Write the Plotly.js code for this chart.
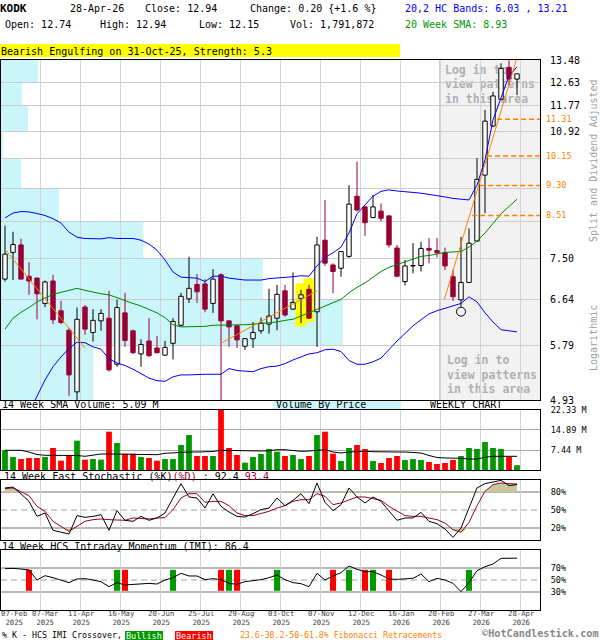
<!DOCTYPE html>
<html><head><meta charset="utf-8">
<script src="https://cdn.plot.ly/plotly-3.0.1.min.js"></script>
<style>html,body{margin:0;padding:0;background:#fff}#chart{width:600px;height:640px}</style>
</head><body><div id="chart"></div>
<script>
// ---------- DATA ----------
const tickIdx   = [0, 4, 9, 14, 19, 24, 29, 34, 39, 44, 49, 54, 59, 64];
const tickDay   = ['07-Feb','07-Mar','11-Apr','16-May','20-Jun','25-Jul','29-Aug','03-Oct','07-Nov','12-Dec','16-Jan','20-Feb','27-Mar','28-Apr'];
const tickYear  = ['2025','2025','2025','2025','2025','2025','2025','2025','2025','2025','2026','2026','2026','2026'];

const open  = [7.05,7.63,7.80,7.11,7.07,6.56,7.01,6.42,6.06,5.05,6.49,6.02,6.23,6.28,5.48,6.38,6.05,5.65,5.87,5.75,5.63,5.83,6.15,6.65,6.94,6.95,6.56,7.14,6.23,6.14,5.78,5.91,6.05,6.17,6.28,6.81,6.45,6.66,6.84,6.40,7.91,7.35,7.28,7.54,9.01,8.73,8.46,8.62,8.50,7.73,7.00,7.33,7.34,7.72,7.67,7.62,7.10,6.63,6.98,7.89,9.59,11.09,12.00,13.19,12.74];
const high  = [8.26,8.11,7.94,7.41,7.09,7.02,7.14,6.61,6.10,6.48,6.53,6.45,6.45,6.81,6.63,6.77,6.07,5.90,6.28,5.96,5.87,6.28,6.77,7.53,7.16,7.05,7.26,7.17,6.24,6.15,5.92,6.21,6.29,6.85,6.93,6.93,7.19,6.83,6.93,7.99,8.91,7.39,7.66,9.31,9.98,8.75,9.04,8.82,8.51,7.80,7.46,7.84,7.87,7.96,7.96,7.74,7.24,7.99,8.19,10.08,11.63,12.27,13.35,13.55,12.94];
const low   = [7.00,7.03,7.05,6.73,6.26,6.49,6.17,6.17,4.99,4.93,5.98,5.86,6.05,5.36,5.44,5.77,5.65,5.44,5.60,5.66,5.62,5.56,6.13,6.57,6.57,6.39,6.38,4.92,5.77,5.75,5.72,5.75,6.00,6.00,6.06,6.31,6.44,6.19,6.27,5.77,7.33,6.76,7.10,7.51,8.61,8.01,8.44,8.36,7.74,7.09,6.92,7.17,7.21,7.39,7.52,7.24,6.61,6.50,6.97,7.87,8.57,11.05,11.98,12.52,12.15];
const close = [7.59,7.81,7.05,7.01,6.75,6.99,6.25,6.20,5.31,6.26,6.08,6.24,6.37,5.39,6.48,5.88,5.67,5.81,5.62,5.67,5.76,6.22,6.70,6.86,6.79,6.45,7.05,6.23,6.12,5.89,5.91,6.02,6.19,6.32,6.74,6.34,6.58,6.73,6.28,7.80,7.39,7.21,7.65,8.80,8.65,8.33,8.73,8.44,7.80,7.11,7.33,7.34,7.72,7.68,7.62,7.33,6.69,6.98,7.84,9.47,11.25,12.12,13.15,12.74,12.94];

const bandUpper = [8.45,8.57,8.61,8.60,8.56,8.51,8.43,8.32,8.10,7.98,7.95,7.94,7.94,7.97,7.95,7.95,7.95,7.91,7.82,7.68,7.46,7.20,7.09,7.08,7.07,7.00,7.11,7.11,7.07,7.05,7.03,7.03,7.03,7.06,7.07,7.09,7.10,7.12,7.11,7.33,7.52,7.62,7.75,8.08,8.55,8.78,9.01,9.14,9.18,9.15,9.12,9.11,9.09,9.06,9.01,8.99,8.95,8.93,8.91,9.31,10.03,11.29,12.08,12.86,13.21];
const bandLower = [4.40,4.50,4.60,4.75,4.99,5.23,5.44,5.60,5.74,5.85,5.84,5.77,5.73,5.57,5.50,5.46,5.40,5.33,5.26,5.22,5.21,5.28,5.31,5.31,5.32,5.32,5.32,5.32,5.41,5.38,5.37,5.36,5.41,5.44,5.45,5.49,5.55,5.60,5.65,5.67,5.72,5.73,5.69,5.54,5.48,5.48,5.52,5.58,5.73,5.87,6.00,6.14,6.25,6.36,6.42,6.47,6.51,6.56,6.69,6.59,6.38,6.21,6.07,6.05,6.03];
const sma20     = [6.08,6.28,6.39,6.48,6.59,6.66,6.74,6.78,6.82,6.86,6.82,6.78,6.75,6.73,6.67,6.62,6.56,6.51,6.44,6.38,6.29,6.16,6.12,6.12,6.12,6.13,6.15,6.15,6.15,6.16,6.16,6.17,6.18,6.20,6.21,6.24,6.26,6.32,6.38,6.44,6.51,6.57,6.64,6.77,6.88,6.97,7.09,7.21,7.30,7.36,7.42,7.47,7.54,7.56,7.59,7.63,7.64,7.65,7.75,7.89,8.08,8.30,8.55,8.74,8.93];

const volume = [7.33,4.84,4.09,4.47,4.47,4.84,8.19,3.47,5.46,10.92,3.85,4.09,3.85,14.27,10.05,6.08,6.08,4.84,4.47,3.47,4.09,4.09,9.30,13.03,5.21,5.21,5.21,22.33,8.19,5.58,2.73,4.84,5.95,7.82,6.82,5.21,5.58,4.09,5.21,13.03,14.27,6.08,3.35,8.19,9.30,7.82,3.35,2.61,4.47,5.21,3.72,4.09,3.72,2.98,2.23,2.61,3.72,5.21,8.19,7.82,10.42,8.19,7.82,4.84,1.79];
const volSma = [7.33,7.33,7.33,6.70,5.77,5.47,5.47,5.47,5.47,5.40,5.10,5.47,5.95,5.95,5.95,5.95,5.95,5.84,5.77,5.70,6.21,6.44,6.70,6.70,6.70,6.70,6.88,7.33,7.26,7.18,7.07,6.96,7.07,7.18,7.55,7.55,7.33,6.96,7.07,7.33,7.55,6.70,6.33,6.70,6.96,6.96,6.81,6.70,6.70,6.70,6.70,6.51,6.33,5.40,4.65,4.47,4.47,4.35,4.09,4.09,4.73,5.10,5.10,5.10,5.09];
const volTicks = [7.44, 14.89, 22.33];

const stochK = [86.7,88.3,77,64.4,39.4,45,16.1,12.8,10,40.6,37.8,39.4,42.2,16.1,48.9,32.8,31.1,39.4,32.8,36.7,45,70,93.9,71.7,70,53.3,77,56.1,46.7,39.4,38.3,43.9,50.6,53.3,70,57.2,66.1,77.2,60.6,95,62.8,48.9,58.9,86.7,71.7,61.7,71.7,64.4,47.8,32.8,36.7,36.7,46.1,31.1,27.2,18.3,4.4,20,53.3,86.7,93.9,96.7,99.4,90.6,92.4];
const stochD = [85.6,86.7,80.6,73.9,56.1,47.8,31.1,22.8,14.4,22.8,31.1,33.9,35,33.9,33.9,32.8,36.7,35.6,35,36.7,37.2,50.6,70,77.2,77.2,62.8,64.4,64.4,57.2,45,40.6,40.6,43.9,47.8,53.3,57.2,64.4,67.2,67.2,77.2,72.8,58.9,61.7,67.2,71.7,71.7,68.3,66.1,56.1,47.8,40.6,39.4,39.4,36.7,33.9,28.3,17.2,12.8,29.4,57.2,81.1,92.2,95,93.9,93.4];
const imi    = [68.9,69.4,68.3,66.7,50,57.2,53.9,50,45.6,51.7,52.2,50,47.2,38.9,45.6,41.7,42.8,44.4,44.4,43.3,50,53.9,61.1,56.7,56.7,50.6,52.2,50.6,44.4,42.8,47.2,48.9,50.6,53.9,58.3,50.6,45.6,43.9,38.9,61.1,50,56.7,62.2,73.3,67.8,63.9,63.9,58.3,51.7,51.1,51.7,52.8,60,47.2,52.8,50,44.4,30.6,45.6,65.6,72.2,76.7,86.1,86.1,86.4];
const imiBull = [14, 21, 28, 34, 43, 46, 58];
const imiBear = [3, 15, 27, 29, 41, 45, 48];

const priceTicks    = [4.93, 5.79, 6.64, 7.50, 8.36, 9.21, 10.07, 10.92, 11.77, 12.63, 13.48];
const priceTickText = ['4.93','5.79','6.64','7.50','','','','10.92','11.77','12.63','13.48'];
const vbpPct = [9.2, 34.1, 26.1, 14.2, 5.8, 2.0, 0.2, 2.7, 2.1, 3.7]; // volume-by-price share per bin (bottom to top)

const fibLevels = [8.51, 9.30, 10.15, 11.31];
const fibStart  = [58.4, 59.4, 60.25, 61.5];
const trend1Idx = [0, 10],    trend1Val = [7.70, 5.75];
const trend2Idx = [27, 39],   trend2Val = [5.83, 6.81];
const trend3Idx = [54.9, 64], trend3Val = [6.63, 13.57];
const patternIdx = [37, 38];
const pivotLowIdx = 57, pivotHighIdx = 62;

// ---------- LAYOUT HELPERS ----------
const MONO = 'DejaVu Sans Mono';
const RED = '#990033', VGREEN = '#009900', VRED = '#ff0000', ORANGE = '#ff8000';
const PL = 1, PR = 540, PT = 60, PB = 610;
const px = x => (x - PL) / (PR - PL);
const py = y => (PB - y) / (PB - PT);
const XR = [-0.5, 66.875];

const idx = close.map((_, i) => i);
const isUp = idx.map(i => close[i] >= open[i]);
const bodyLo = idx.map(i => Math.min(open[i], close[i]));
const bodyHi = idx.map(i => Math.max(open[i], close[i]));
const bodySz = idx.map(i => Math.max(bodyHi[i] - bodyLo[i], 0.004));
const gridX = tickIdx.slice(1).map(i => i + 0.375);

function wicks(up) {
  const xs = [], ys = [];
  idx.forEach(i => {
    if (isUp[i] !== up) return;
    xs.push(i, i, null, i, i, null);
    ys.push(high[i], bodyHi[i], null, bodyLo[i], low[i], null);
  });
  return {xs, ys};
}
const wU = wicks(true), wD = wicks(false);

const data = [];
data.push({type:'bar', x: idx, y: bodySz, base: bodyLo, width: 0.55, xaxis:'x', yaxis:'y', hoverinfo:'skip',
  marker:{color: idx.map(i => isUp[i] ? '#ffffff' : RED), line:{color: idx.map(i => isUp[i] ? '#000000' : RED), width:1}}});
data.push({type:'scatter', mode:'lines', x: wU.xs, y: wU.ys, line:{color:'#000', width:1}, xaxis:'x', yaxis:'y'});
data.push({type:'scatter', mode:'lines', x: wD.xs, y: wD.ys, line:{color:RED, width:1}, xaxis:'x', yaxis:'y'});
data.push({type:'scatter', mode:'lines', x: idx, y: bandUpper, line:{color:'#0000ff', width:1}, xaxis:'x', yaxis:'y'});
data.push({type:'scatter', mode:'lines', x: idx, y: bandLower, line:{color:'#0000ff', width:1}, xaxis:'x', yaxis:'y'});
data.push({type:'scatter', mode:'lines', x: idx, y: sma20, line:{color:'#008800', width:1}, xaxis:'x', yaxis:'y'});
[[trend1Idx, trend1Val], [trend2Idx, trend2Val], [trend3Idx, trend3Val]].forEach(([tx, ty]) => {
  data.push({type:'scatter', mode:'lines', x: tx, y: ty, line:{color:ORANGE, width:1}, xaxis:'x', yaxis:'y'});
});
fibLevels.forEach((lv, k) => {
  data.push({type:'scatter', mode:'lines', x: [fibStart[k], XR[1]], y: [lv, lv], line:{color:ORANGE, width:1.5, dash:'5px,3px'}, xaxis:'x', yaxis:'y'});
});
data.push({type:'scatter', mode:'markers', x:[pivotLowIdx, pivotHighIdx], y:[low[pivotLowIdx]*0.985, high[pivotHighIdx]*1.01],
  marker:{symbol:'circle-open', size:9, color:'#000', line:{width:1, color:'#000'}}, xaxis:'x', yaxis:'y', cliponaxis:false});

data.push({type:'bar', x: idx, y: volume, width: 0.72, marker:{color: idx.map(i => isUp[i] ? VGREEN : VRED), line:{width:0}}, xaxis:'x2', yaxis:'y2'});
data.push({type:'scatter', mode:'lines', x: idx, y: volSma, line:{color:'#000', width:1}, xaxis:'x2', yaxis:'y2'});

const FILL = '#cbc79c';
data.push({type:'scatter', mode:'lines', x: idx, y: idx.map(() => 80), line:{width:0, color:'rgba(0,0,0,0)'}, xaxis:'x3', yaxis:'y3'});
data.push({type:'scatter', mode:'lines', x: idx, y: stochD.map(v => Math.max(v, 80)), fill:'tonexty', fillcolor:FILL, line:{width:0, color:'rgba(0,0,0,0)'}, xaxis:'x3', yaxis:'y3'});
data.push({type:'scatter', mode:'lines', x: idx, y: idx.map(() => 20), line:{width:0, color:'rgba(0,0,0,0)'}, xaxis:'x3', yaxis:'y3'});
data.push({type:'scatter', mode:'lines', x: idx, y: stochD.map(v => Math.min(v, 20)), fill:'tonexty', fillcolor:FILL, line:{width:0, color:'rgba(0,0,0,0)'}, xaxis:'x3', yaxis:'y3'});
data.push({type:'scatter', mode:'lines', x: idx, y: stochD, line:{color:RED, width:1}, xaxis:'x3', yaxis:'y3'});
data.push({type:'scatter', mode:'lines', x: idx, y: stochK, line:{color:'#000', width:1}, xaxis:'x3', yaxis:'y3'});

data.push({type:'bar', x: imiBull, y: imiBull.map(() => 35), base: imiBull.map(() => 32), width: 0.75, marker:{color:VGREEN, line:{width:0}}, xaxis:'x4', yaxis:'y4'});
data.push({type:'bar', x: imiBear, y: imiBear.map(() => 35), base: imiBear.map(() => 32), width: 0.75, marker:{color:VRED, line:{width:0}}, xaxis:'x4', yaxis:'y4'});
data.push({type:'scatter', mode:'lines', x: idx, y: imi, line:{color:'#000', width:1}, xaxis:'x4', yaxis:'y4'});

// ---------- SHAPES ----------
const shapes = [];
const vbpMax = Math.max(...vbpPct);
vbpPct.forEach((p, k) => {
  shapes.push({type:'rect', xref:'x', yref:'y', x0: XR[0], x1: XR[0] + (p / vbpMax) * 42.75, y0: priceTicks[k], y1: priceTicks[k+1],
    fillcolor:'#c9f5fb', line:{width:0}, layer:'below'});
});
const grayX0 = tickIdx[11] + 0.375;
const loginFont = {family:MONO, size:11.5, color:'#b0b0b0', weight:'bold'};
shapes.push({type:'rect', xref:'x', yref:'y domain', x0: grayX0, x1: XR[1], y0: 0, y1: 1, fillcolor:'#f2f2f2', line:{width:0}, layer:'below',
  label:{text:'Log in to<br>view patterns<br>in this area', textposition:'top left', font:loginFont, padding:2}});
shapes.push({type:'rect', xref:'x', yref:'y domain', x0: grayX0, x1: XR[1], y0: 0, y1: 1, fillcolor:'rgba(0,0,0,0)', line:{width:0}, layer:'below',
  label:{text:'Log in to<br>view patterns<br>in this area', textposition:'bottom left', font:loginFont, padding:4}});
shapes.push({type:'line', xref:'x', yref:'y domain', x0: grayX0, x1: grayX0, y0: 0, y1: 1, line:{color:'#999999', width:1}, layer:'below'});
patternIdx.forEach(i => {
  shapes.push({type:'rect', xref:'x', yref:'y', x0: i - 0.7, x1: i + 0.6, y0: low[i]*0.99, y1: high[i]*1.02, fillcolor:'#ffff00', line:{width:0}, layer:'below'});
});
[[80,'solid'],[50,'dash'],[20,'solid']].forEach(([v, d]) => {
  shapes.push({type:'line', xref:'x3 domain', yref:'y3', x0:0, x1:1, y0:v, y1:v, line:{color:'#a0a0a0', width: d==='solid'?1.5:1, dash: d==='solid'?'solid':'6px,4px'}, layer:'below'});
});
[[70,'solid'],[50,'dash'],[30,'solid']].forEach(([v, d]) => {
  shapes.push({type:'line', xref:'x4 domain', yref:'y4', x0:0, x1:1, y0:v, y1:v, line:{color:'#a0a0a0', width: d==='solid'?1.5:1, dash: d==='solid'?'solid':'6px,4px'}, layer:'below'});
});
function prect(x0, x1, y0, y1, color) {
  return {type:'rect', xref:'paper', yref:'paper', x0: px(x0), x1: px(x1), y0: py(y1), y1: py(y0), fillcolor: color, line:{width:0}, layer:'below'};
}
shapes.push(prect(0, 400, 44, 57, '#ffff00'));
shapes.push(prect(273, 401, 400.5, 410, '#c9f5fb'));
shapes.push(prect(125, 163, 631, 640, VGREEN));
shapes.push(prect(175, 213, 631, 640, VRED));

// ---------- ANNOTATIONS ----------
const anns = [];
function A(text, x, y, size, color, extra) {
  anns.push(Object.assign({text, xref:'paper', yref:'paper', x: px(x), y: py(y), xanchor:'left', yanchor:'middle', showarrow:false,
    borderpad:0, font:{family:MONO, size: size || 10, color: color || '#000'}}, extra || {}));
}
A('<b>KODK</b>', -1, 9, 11);
A('28-Apr-26', 69, 9);
A('Close: 12.94', 144, 9);
A('Change: 0.20 {+1.6 %}', 249, 9);
A('Open: 12.74', 4, 25);
A('High: 12.94', 99, 25);
A('Low: 12.15', 198, 25);
A('Vol: 1,791,872', 289, 25);
A('20,2 HC Bands: 6.03 , 13.21', 404, 8, 10, '#0000ff');
A('20 Week SMA: 8.93', 404, 25, 10, VGREEN);
A('Bearish Engulfing on 31-Oct-25, Strength: 5.3', 0, 51);
A('Split and Dividend Adjusted', 594, 161, 10, '#a0a0a0', {textangle:-90, xanchor:'center'});
A('Logarithmic', 594, 338, 10, '#a0a0a0', {textangle:-90, xanchor:'center'});
A('14 Week SMA Volume: 5.09 M', 1, 405);
A('Volume By Price', 275, 405);
A('WEEKLY CHART', 429, 405);
A('14 Week Fast Stochastic (%K)<span style="color:' + RED + '">(%D)</span> : 92.4 <span style="color:' + RED + '">93.4</span>', 3, 476);
A('14 Week HCS Intraday Momentum (IMI): 86.4', 1, 546);
A('% K - HCS IMI Crossover,', 1, 635, 8.3);
A('Bullish', 144, 635.5, 8.5, '#ffffff', {xanchor:'center'});
A('Bearish', 194, 635.5, 8.5, '#ffffff', {xanchor:'center'});
A('23.6-38.2-50-61.8% Fibonacci Retracements', 239, 635, 8.2, ORANGE);
A('<b>©HotCandlestick.com</b>', 600, 639.8, 10.2, '#888888', {yanchor:'bottom', xanchor:'right'});
fibLevels.forEach(lv => {
  anns.push({text: lv.toFixed(2), xref:'paper', yref:'y', x: px(545), y: Math.log10(lv), xanchor:'left', yanchor:'middle', showarrow:false, borderpad:0,
    font:{family:MONO, size:8.5, color:ORANGE}});
});
// date labels (two lines each)
tickIdx.forEach((ti, k) => {
  let pos;
  if (k === 0) pos = {xref:'paper', x: px(0), xanchor:'left'};
  else if (k === 1) pos = {xref:'x4', x: ti + 1.1, xanchor:'center'};
  else pos = {xref:'x4', x: ti + 0.5, xanchor:'center'};
  anns.push(Object.assign({text: tickDay[k] + '<br>' + tickYear[k], yref:'paper', y: py(608), yanchor:'top', align:'center', showarrow:false, borderpad:0,
    font:{family:MONO, size:7.3, color:'#404040'}}, pos));
});

// ---------- AXES ----------
const xBase = {type:'linear', range: XR, tickvals: gridX, showticklabels:false, showgrid:true, gridcolor:'#d4d4d4', gridwidth:1,
  zeroline:false, showline:true, mirror:true, linecolor:'#000', linewidth:1, ticks:'', fixedrange:true};
const yBase = {side:'right', showline:true, mirror:true, linecolor:'#000', linewidth:1, ticks:'', zeroline:false, fixedrange:true, ticklabelstandoff:8};

const layout = {
  width:600, height:640, margin:{l:PL, r:600-PR, t:PT, b:640-PB, pad:0},
  paper_bgcolor:'#ffffff', plot_bgcolor:'#ffffff', showlegend:false, hovermode:false, barmode:'overlay',
  font:{family:MONO, size:10, color:'#000'},
  xaxis:  Object.assign({}, xBase, {anchor:'y'}),
  xaxis2: Object.assign({}, xBase, {anchor:'y2'}),
  xaxis3: Object.assign({}, xBase, {anchor:'y3'}),
  xaxis4: Object.assign({}, xBase, {anchor:'y4'}),
  yaxis: Object.assign({}, yBase, {anchor:'x', domain:[py(400), 1], type:'log', range:[Math.log10(priceTicks[0]), Math.log10(priceTicks[priceTicks.length-1])],
    tickvals: priceTicks, ticktext: priceTickText, showgrid:true, gridcolor:'#cccccc', gridwidth:1, tickfont:{family:MONO, size:10, color:'#000'}, ticklabelstandoff:7}),
  yaxis2: Object.assign({}, yBase, {anchor:'x2', domain:[py(470), py(410)], range:[0, Math.max(...volume)],
    tickvals: volTicks, ticktext: volTicks.map(v => v.toFixed(2) + ' M'), showgrid:true, gridcolor:'#a8a8a8', gridwidth:1, tickfont:{family:MONO, size:8.5, color:'#000'}}),
  yaxis3: Object.assign({}, yBase, {anchor:'x3', domain:[py(540), py(480)], range:[0, 100],
    tickvals:[20, 50, 80], ticktext:['20%','50%','80%'], showgrid:false, tickfont:{family:MONO, size:8.5, color:'#000'}}),
  yaxis4: Object.assign({}, yBase, {anchor:'x4', domain:[0, py(550)], range:[0, 100],
    tickvals:[30, 50, 70], ticktext:['30%','50%','70%'], showgrid:false, tickfont:{family:MONO, size:8.5, color:'#000'}}),
  shapes, annotations: anns
};

Plotly.newPlot('chart', data, layout, {staticPlot:true, displayModeBar:false});
</script>
</body></html>
